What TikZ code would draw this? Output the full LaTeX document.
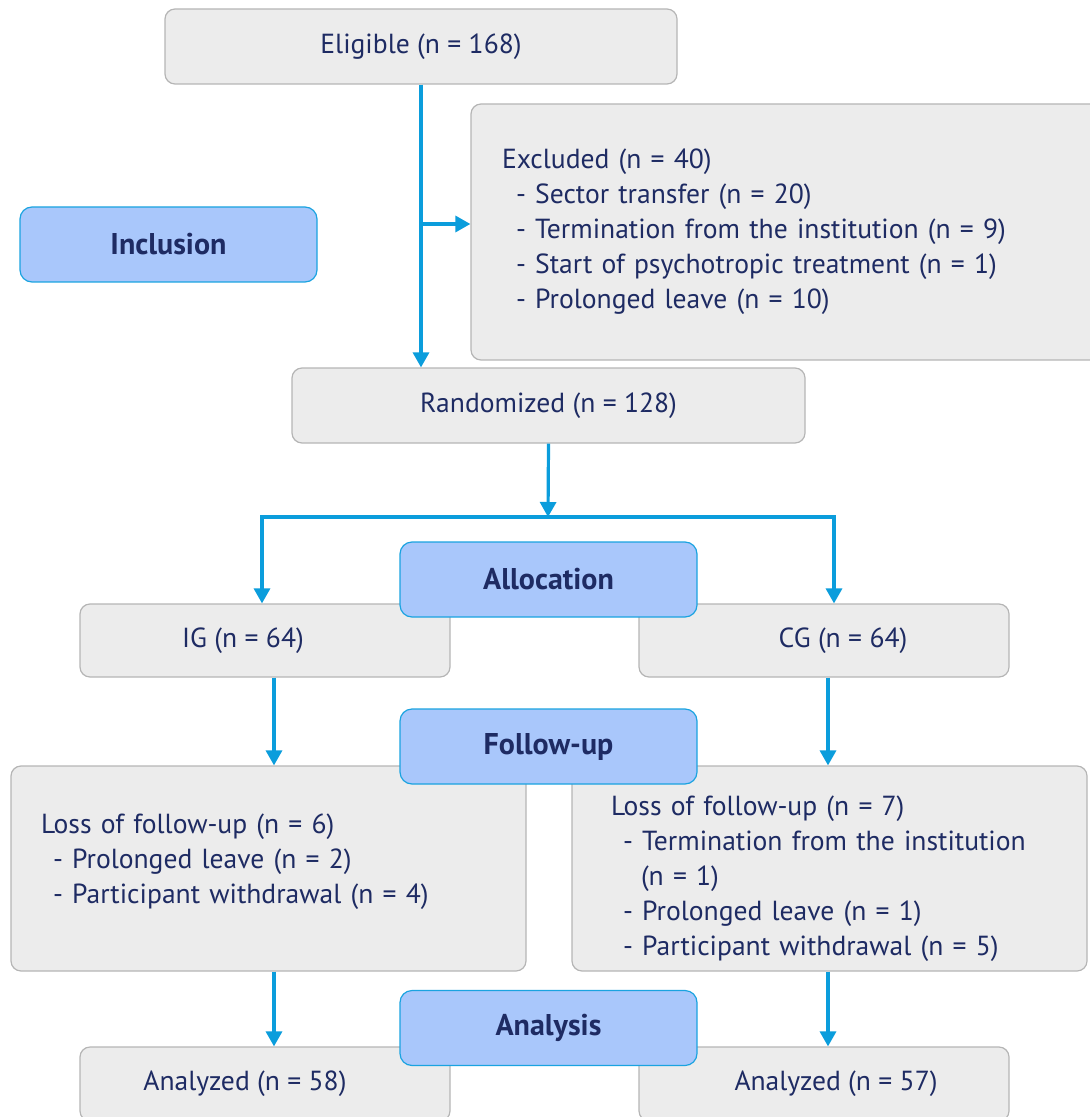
\documentclass[tikz,border=0pt]{standalone}
\usepackage{fontspec}
\setmainfont{PT Sans}
\usetikzlibrary{arrows.meta}

\definecolor{boxgray}{HTML}{ECECEC}
\definecolor{boxline}{HTML}{B5B5B5}
\definecolor{stagefill}{HTML}{A9C7FB}
\definecolor{stageline}{HTML}{1AA3E0}
\definecolor{flowblue}{HTML}{0B9DDC}
\definecolor{textnavy}{HTML}{1E2B63}

\tikzset{
  box/.style={draw=boxline, fill=boxgray, rounded corners=5pt, line width=0.6pt,
    text=textnavy, font=\fontsize{13.8}{17.5}\selectfont, inner sep=0pt},
  listbox/.style={box, align=left},
  stage/.style={draw=stageline, fill=stagefill, rounded corners=6pt, line width=0.6pt,
    text=textnavy, font=\bfseries\fontsize{15}{18}\selectfont,
    minimum width=148.5pt, minimum height=37.5pt, inner sep=0pt},
  flow/.style={draw=flowblue, line width=1.6pt, -{Triangle[length=7.5pt,width=8pt]}},
}

\begin{document}
\begin{tikzpicture}[x=0.5pt, y=-0.5pt]
    \useasboundingbox (0,0) rectangle (1089,1117);

    % Boxes
    \node[box, minimum width=256pt, minimum height=37.5pt] (elig) at (421,46.5) {Eligible (n = 168)};
    \node[listbox, text width=283.5pt, inner xsep=15.5pt, minimum height=128pt] (excl) at (785.5,232)
        {Excluded (n = 40)\\
         \hspace*{7pt}- Sector transfer (n = 20)\\
         \hspace*{7pt}- Termination from the institution (n = 9)\\
         \hspace*{7pt}- Start of psychotropic treatment (n = 1)\\
         \hspace*{7pt}- Prolonged leave (n = 10)};
    \node[box, minimum width=256.5pt, minimum height=37.5pt] (rand) at (548.5,405.5) {Randomized (n = 128)};
    \node[box, minimum width=185pt, minimum height=36.5pt] (ig) at (265,640.5) {IG (n = 64)\hspace*{22pt}};
    \node[box, minimum width=185pt, minimum height=36.5pt] (cg) at (824,640.5) {\hspace*{19pt}CG (n = 64)};
    \node[listbox, text width=227.5pt, inner xsep=15pt, minimum height=102.5pt] (lossig) at (268.5,868.5)
        {Loss of follow-up (n = 6)\\
         \hspace*{6pt}- Prolonged leave (n = 2)\\
         \hspace*{6pt}- Participant withdrawal (n = 4)\rule[-9.5pt]{0pt}{0pt}};
    \node[listbox, text width=218.5pt, inner xsep=19.5pt, minimum height=102.5pt] (losscg) at (829.5,868.5)
        {\rule{0pt}{20pt}Loss of follow-up (n = 7)\\
         \hspace*{6pt}- Termination from the institution\\
         \hspace*{15pt}(n = 1)\\
         \hspace*{6pt}- Prolonged leave (n = 1)\\
         \hspace*{6pt}- Participant withdrawal (n = 5)};
    \node[box, minimum width=185pt, minimum height=37pt] (anaig) at (265,1084) {Analyzed (n = 58)\hspace*{20pt}};
    \node[box, minimum width=185pt, minimum height=37pt] (anacg) at (824,1084) {\hspace*{12pt}Analyzed (n = 57)};

    % Arrows
    \coordinate (branch) at (421,224);
    \coordinate (split) at (548,517);
    \draw[flow] (elig.south) -- (elig.south |- rand.north);
    \draw[flow] (branch) -- (branch -| excl.west);
    \draw[flow] (rand.south) -- (split);
    \draw[flow] (split) -| ([xshift=-1.5pt]ig.north);
    \draw[flow] (split) -| ([xshift=5pt]cg.north);
    \draw[flow] ([xshift=4.5pt]ig.south) -- ([xshift=4.5pt]ig.south |- lossig.north);
    \draw[flow] ([xshift=2pt]cg.south) -- ([xshift=2pt]cg.south |- losscg.north);
    \draw[flow] ([xshift=2.75pt]lossig.south) -- ([xshift=2.75pt]lossig.south |- anaig.north);
    \draw[flow] ([xshift=-0.75pt]losscg.south) -- ([xshift=-0.75pt]losscg.south |- anacg.north);

    % Stages
    \node[stage] (incl) at (168.5,244.5) {Inclusion};
    \node[stage] (alloc) at (548.5,579.5) {Allocation};
    \node[stage] (follow) at (548.5,746.5) {Follow-up};
    \node[stage] (anal) at (548.5,1028) {Analysis};
\end{tikzpicture}
\end{document}
